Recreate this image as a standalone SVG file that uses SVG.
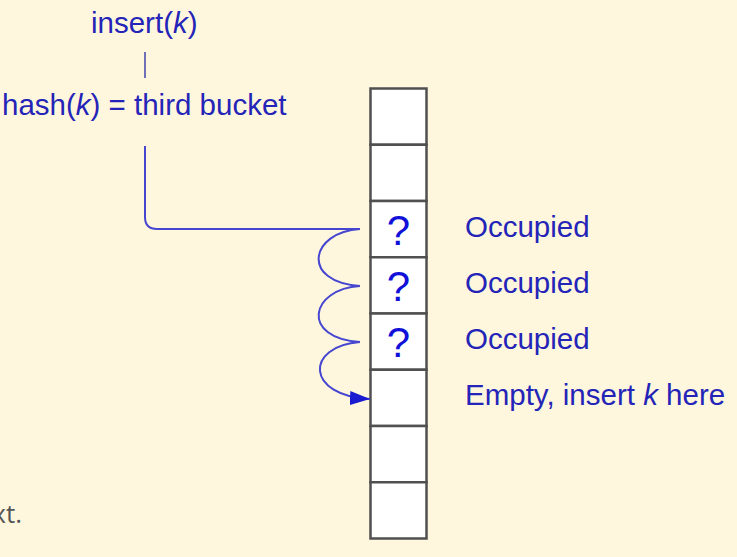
<svg xmlns="http://www.w3.org/2000/svg" width="737" height="557" viewBox="0 0 737 557">
<defs>
<style>
.lbl{font-family:"Liberation Sans",Arial,sans-serif;font-size:29.5px;fill:#2424B8}
.q{font-family:"Liberation Sans",Arial,sans-serif;font-size:42px;fill:#1010D8;text-anchor:middle}
.cell{fill:#FFFFFF;stroke:#505050;stroke-width:2.5}
.conn{fill:none;stroke:#4646D0;stroke-width:2}
.note{font-family:"Open Sans","Liberation Sans",sans-serif;font-size:26px;fill:#555555}
</style>
<marker id="arr" viewBox="0 0 20 14" refX="20" refY="7" markerWidth="20" markerHeight="14" markerUnits="userSpaceOnUse" orient="auto">
<path d="M0,0 L20,7 L0,14 z" fill="#1A1AD0"/>
</marker>
</defs>
<rect width="737" height="557" fill="#FEF7DD"/>
<text class="note" x="22" y="523" text-anchor="end">xt.</text>

<g id="insert-label"><text class="lbl" x="91" y="33">insert(<tspan font-style="italic">k</tspan>)</text></g>
<g id="hash-label"><text class="lbl" x="2" y="115">hash(<tspan font-style="italic">k</tspan>) = third bucket</text></g>

<g id="table">
<g id="bucket1"><rect class="cell" x="370.5" y="88.5" width="56" height="56.25"/></g>
<g id="bucket2"><rect class="cell" x="370.5" y="144.75" width="56" height="56.25"/></g>
<g id="bucket3"><rect class="cell" x="370.5" y="201" width="56" height="56.25"/><text class="q" x="398.5" y="245">?</text></g>
<g id="bucket4"><rect class="cell" x="370.5" y="257.25" width="56" height="56.25"/><text class="q" x="398.5" y="301">?</text></g>
<g id="bucket5"><rect class="cell" x="370.5" y="313.5" width="56" height="56.25"/><text class="q" x="398.5" y="357">?</text></g>
<g id="bucket6"><rect class="cell" x="370.5" y="369.75" width="56" height="56.25"/></g>
<g id="bucket7"><rect class="cell" x="370.5" y="426" width="56" height="56.25"/></g>
<g id="bucket8"><rect class="cell" x="370.5" y="482.25" width="56" height="56.25"/></g>
</g>

<g id="status-labels">
<text class="lbl" x="465" y="237">Occupied</text>
<text class="lbl" x="465" y="293">Occupied</text>
<text class="lbl" x="465" y="349">Occupied</text>
<text class="lbl" x="465" y="405">Empty, insert <tspan font-style="italic">k</tspan> here</text>
</g>

<g id="connectors">
<line x1="145" y1="52" x2="145" y2="78" stroke="#7070B8" stroke-width="2"/>
<path class="conn" d="M145,146 L145,217 Q145,229 157,229 L360,229"/>
<path class="conn" d="M360,229 C310,232 300,282 360,286"/>
<path class="conn" d="M360,286 C310,289 300,338 360,342"/>
<path class="conn" d="M360,342 C305,346 305,396 370,399" marker-end="url(#arr)"/>
</g>
</svg>
